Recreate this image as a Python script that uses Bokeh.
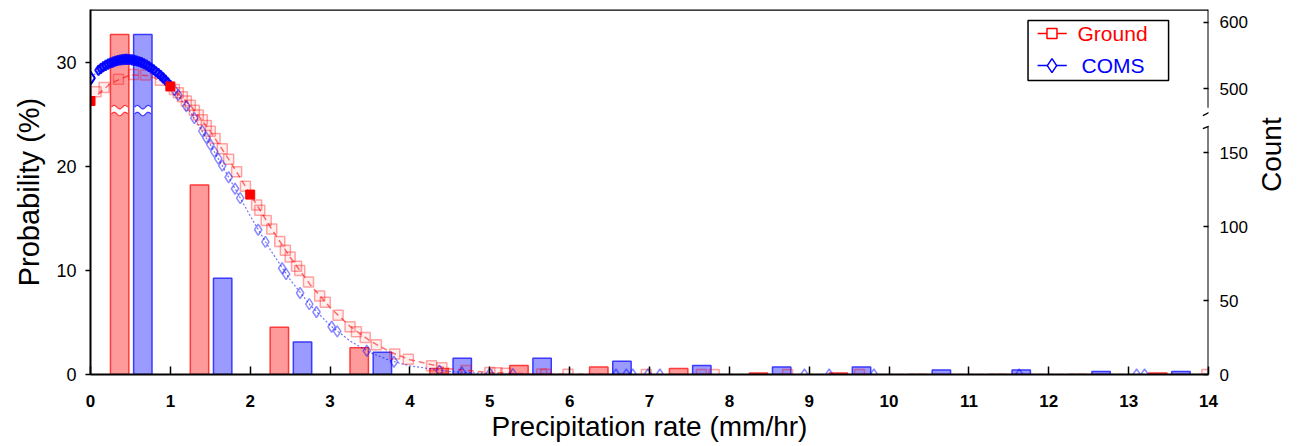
import numpy as np
from bokeh.plotting import figure
from bokeh.models import (Range1d, LinearAxis, FixedTicker, CustomJSTickFormatter,
                          Label, Arrow)
from bokeh.embed import file_html
from bokeh.resources import INLINE

# ---------------- data ----------------
bins = list(range(14))
ground_counts = [582, 128, 32, 18, 4, 6, 5, 4, 1, 1, 0, 0, 0, 1]
coms_counts = [582, 65, 22, 15, 11, 11, 9, 6, 5, 5, 3, 3, 2, 2]

x_ticks = list(range(15))
prob_ticks = [0, 10, 20, 30]
count_ticks = [0, 50, 100, 150, 500, 600]

ground_line_x = [0, 0.25, 0.5, 0.75, 1.0, 1.25, 1.5, 1.75, 2.0, 2.25, 2.5, 2.75, 3.0,
                 3.25, 3.5, 3.75, 4.0, 4.5, 5.0, 5.5, 6.0, 7.0, 14.0]
ground_line_y = [26.31, 27.99, 28.82, 28.73, 27.72, 25.89, 23.40, 20.47, 17.34, 14.21,
                 11.28, 8.66, 6.44, 4.63, 3.23, 2.18, 1.42, 0.55, 0.19, 0.05, 0.02, 0.0, 0.0]
coms_line_x = [0, 0.25, 0.5, 0.75, 1.0, 1.25, 1.5, 1.75, 2.0, 2.25, 2.5, 2.75, 3.0,
               3.25, 3.5, 3.75, 4.0, 4.5, 5.0, 5.5, 6.0, 7.0, 14.0]
coms_line_y = [28.60, 29.95, 30.28, 29.53, 27.79, 25.24, 22.11, 18.70, 15.25, 12.01,
               9.12, 6.68, 4.73, 3.23, 2.12, 1.35, 0.83, 0.28, 0.08, 0.02, 0.0, 0.0, 0.0]

ground_pts_x = [0.07, 0.17, 0.35, 0.54, 0.69, 0.875, 1.05, 1.1, 1.15, 1.2, 1.25, 1.3, 1.35,
                1.4, 1.45, 1.5, 1.56, 1.65, 1.73, 1.83, 1.94, 2.08, 2.12, 2.2, 2.27, 2.37,
                2.44, 2.5, 2.58, 2.62, 2.73, 2.87, 2.94, 3.1, 3.25, 3.33, 3.44, 3.58, 3.81,
                3.98, 4.27, 4.4, 4.7, 5.0, 5.09, 5.2, 5.65, 5.7, 5.98, 6.96, 7.65, 7.81,
                8.73, 9.63, 13.98]
ground_pts_y = [27.2, 27.6, 28.4, 28.85, 28.8, 28.3, 27.4, 27.1, 26.7, 26.3, 25.9, 25.4, 24.95,
                24.5, 23.95, 23.4, 22.7, 21.7, 20.7, 19.5, 18.1, 16.3, 15.8, 14.8, 14.0, 12.8,
                11.95, 11.3, 10.4, 10.0, 8.9, 7.55, 6.95, 5.7, 4.6, 4.1, 3.55, 2.85, 1.97,
                1.47, 0.85, 0.65, 0.38, 0.19, 0.16, 0.13, 0.04, 0.03, 0.02, 0.0, 0.0, 0.0,
                0.0, 0.0, 0.0]
ground_solid_x = [0.0, 1.0, 2.0]
ground_solid_y = [26.3, 27.7, 17.3]

# dense COMS points near the peak (they merge into a solid band)
coms_peak_x = [0.1, 0.13, 0.16, 0.19, 0.22, 0.25, 0.28, 0.31, 0.34, 0.37, 0.4, 0.43, 0.46,
               0.49, 0.52, 0.55, 0.58, 0.61, 0.64, 0.67, 0.7, 0.73, 0.76, 0.79, 0.82, 0.85,
               0.88, 0.91, 0.94, 0.97, 1.0]
coms_peak_y = [29.26, 29.43, 29.6, 29.73, 29.85, 29.95, 30.04, 30.13, 30.19, 30.24, 30.28,
               30.3, 30.3, 30.29, 30.26, 30.21, 30.15, 30.08, 29.99, 29.88, 29.76, 29.62,
               29.47, 29.3, 29.12, 28.95, 28.74, 28.53, 28.3, 28.05, 27.79]
coms_pts_x = [1.05, 1.1, 1.2, 1.3, 1.4, 1.45, 1.5, 1.55, 1.6,
              1.65, 1.73, 1.81, 1.875, 2.1, 2.19, 2.4, 2.45, 2.625, 2.74, 2.83, 3.02, 3.09,
              3.46, 3.8, 4.37, 4.65, 5.0, 5.29, 6.58, 6.71, 6.79, 6.98, 7.13, 8.94, 9.25,
              9.81, 11.63, 13.1, 13.2]
coms_pts_y = [27.34, 26.86, 25.8, 24.65, 23.41, 22.77, 22.11, 21.44, 20.76, 20.08, 18.97,
              17.86, 16.96, 13.92, 12.76, 10.22, 9.66, 7.84, 6.77, 6.01, 4.59, 4.14, 2.28,
              1.23, 0.38, 0.2, 0.08, 0.04, 0.0, 0.0, 0.0, 0.0, 0.0, 0.0, 0.0, 0.0, 0.0, 0.0,
              0.0]
coms_open_x = [0.0]
coms_open_y = [28.5]

# ---------------- broken count axis mapping ----------------
LOW_SCALE = 0.1423      # probability-axis units per count below the break
UP_REF_COUNT = 500
UP_REF = 27.5
UP_SCALE = 0.0635


def count_to_y(c):
    if c <= 300:
        return c * LOW_SCALE
    return UP_REF + (c - UP_REF_COUNT) * UP_SCALE


Y_TOP = 35.1
FONT = "Liberation Sans"

p = figure(width=1305, height=446, output_backend="svg", toolbar_location=None,
           x_range=Range1d(0, 14), y_range=Range1d(0, Y_TOP),
           min_border_left=90, min_border_right=95, min_border_top=9, min_border_bottom=72)
p.outline_line_color = None
p.xgrid.grid_line_color = None
p.ygrid.grid_line_color = None
p.background_fill_color = "white"

# left axis
ya = p.yaxis[0]
ya.ticker = FixedTicker(ticks=prob_ticks)
ya.minor_tick_line_color = None
ya.major_tick_in = 0
ya.major_tick_out = 5
ya.major_tick_line_width = 1.5
ya.axis_line_width = 2
ya.major_label_text_font = FONT
ya.major_label_text_font_size = "18px"
ya.major_label_text_color = "black"
ya.major_label_standoff = 9
ya.axis_label = "Probability (%)"
ya.axis_label_text_font = FONT
ya.axis_label_text_font_style = "normal"
ya.axis_label_text_font_size = "29px"
ya.axis_label_text_color = "black"
ya.axis_label_standoff = 8

# bottom axis
xa = p.xaxis[0]
xa.ticker = FixedTicker(ticks=x_ticks)
xa.minor_tick_line_color = None
xa.major_tick_in = 8
xa.major_tick_out = 0
xa.major_tick_line_width = 1.5
xa.axis_line_width = 2
xa.major_label_text_font = FONT
xa.major_label_text_font_size = "17px"
xa.major_label_text_font_style = "bold"
xa.major_label_text_color = "black"
xa.major_label_standoff = 20
xa.axis_label = "Precipitation rate (mm/hr)"
xa.axis_label_text_font = FONT
xa.axis_label_text_font_style = "normal"
xa.axis_label_text_font_size = "28px"
xa.axis_label_text_color = "black"
xa.axis_label_standoff = 1

# right (count) axis with break
tick_pos = [count_to_y(c) for c in count_ticks]
tick_labs = [str(c) for c in count_ticks]
p.extra_y_ranges = {"cnt": Range1d(0, Y_TOP)}
ra = LinearAxis(y_range_name="cnt", ticker=FixedTicker(ticks=tick_pos),
                formatter=CustomJSTickFormatter(args=dict(pos=tick_pos, labs=tick_labs), code="""
let best = 0; let d = 1e9;
for (let i = 0; i < pos.length; i++) { const e = Math.abs(pos[i] - tick); if (e < d) { d = e; best = i; } }
return labs[best];
"""))
ra.axis_line_color = None
ra.minor_tick_line_color = None
ra.major_tick_in = 5
ra.major_tick_out = 0
ra.major_tick_line_width = 1.5
ra.major_label_text_font = FONT
ra.major_label_text_font_size = "17px"
ra.major_label_text_color = "black"
ra.major_label_standoff = 11
ra.axis_label = "Count"
ra.axis_label_orientation = np.pi / 2
ra.axis_label_text_font = FONT
ra.axis_label_text_font_style = "normal"
ra.axis_label_text_font_size = "28px"
ra.axis_label_text_color = "black"
ra.axis_label_standoff = 21
p.add_layout(ra, "right")

lower_top = count_to_y(168)
upper_bot = count_to_y(471)
for (y0, y1) in [(0, lower_top), (upper_bot, Y_TOP)]:
    p.add_layout(Arrow(end=None, x_start=14, y_start=y0, x_end=14, y_end=y1,
                       line_color="black", line_width=2))
# break slashes
for (y0, y1) in [(24.90, 25.67), (23.65, 24.23)]:
    p.add_layout(Arrow(end=None, x_start=13.93, y_start=y0, x_end=14.125, y_end=y1,
                       line_color="black", line_width=1.3))
# top border
p.add_layout(Arrow(end=None, x_start=0, y_start=Y_TOP, x_end=14, y_end=Y_TOP,
                   line_color="black", line_width=2.5))

# ---------------- bars ----------------
BAR_W = 0.23
red_x = [b + 0.365 for b in bins]
blue_x = [b + 0.655 for b in bins]
red_top = [count_to_y(c) for c in ground_counts]
blue_top = [count_to_y(c) for c in coms_counts]
p.vbar(x=red_x, top=red_top, bottom=0, width=BAR_W, fill_color="#ff9a9a",
       line_color="#ff3a3a", line_width=1.5)
p.vbar(x=blue_x, top=blue_top, bottom=0, width=BAR_W, fill_color="#9a9aff",
       line_color="#3a3aff", line_width=1.5)

# wavy break marks on the tall bars
BREAK_C = 25.38
BREAK_H = 0.33
AMP = 0.17
for cx, cnt, lc in [(red_x[0], ground_counts[0], "#ff3a3a"), (blue_x[0], coms_counts[0], "#3a3aff")]:
    if cnt > 300:
        xs = np.linspace(cx - BAR_W / 2 + 0.012, cx + BAR_W / 2 - 0.012, 30)
        ph = np.linspace(0, 3 * np.pi, 30)
        top = BREAK_C + BREAK_H + AMP * np.sin(ph)
        bot = BREAK_C - BREAK_H + AMP * np.sin(ph)
        p.patch(np.concatenate([xs, xs[::-1]]), np.concatenate([top, bot[::-1]]),
                fill_color="white", line_color=None)
        p.line(xs, top, line_color=lc, line_width=1.2)
        p.line(xs, bot, line_color=lc, line_width=1.2)

# ---------------- curves ----------------
p.line(ground_line_x, ground_line_y, line_color="red", line_alpha=0.55, line_width=1.5,
       line_dash="6 4")
p.line(coms_line_x, coms_line_y, line_color="blue", line_alpha=0.55, line_width=1.2,
       line_dash="2 2")
p.scatter(ground_pts_x, ground_pts_y, marker="square", size=10, line_color="red",
          line_alpha=0.35, fill_color="red", fill_alpha=0.06, line_width=1.5)
p.scatter(coms_pts_x, coms_pts_y, marker="diamond", size=11, line_color="blue",
          line_alpha=0.45, fill_color=None, line_width=1.5)
p.scatter(coms_peak_x, coms_peak_y, marker="diamond", size=10, line_color="blue",
          line_alpha=0.9, fill_color="blue", fill_alpha=0.3, line_width=2)
p.scatter(ground_solid_x, ground_solid_y, marker="square", size=9, line_color="red",
          fill_color="red")
p.scatter(coms_open_x, coms_open_y, marker="diamond", size=13, line_color="blue",
          fill_color="white", line_width=2)

# ---------------- legend (manual) ----------------
p.quad(left=[11.74], right=[13.5], bottom=[28.27], top=[34.04], fill_color="white",
       line_color="black", line_width=1.5)
p.line([11.86, 12.225], [32.79, 32.79], line_color="red", line_width=1.5)
p.scatter([12.04], [32.79], marker="square", size=10, line_color="red", fill_color="white",
          line_width=1.5)
p.line([11.86, 12.225], [29.71, 29.71], line_color="blue", line_width=1.5)
p.scatter([12.04], [29.71], marker="diamond", size=14, line_color="blue", fill_color="white",
          line_width=1.5)
p.add_layout(Label(x=12.36, y=32.79, text="Ground", text_baseline="middle", text_font=FONT,
                   text_font_size="21px", text_color="red"))
p.add_layout(Label(x=12.41, y=29.71, text="COMS", text_baseline="middle", text_font=FONT,
                   text_font_size="21px", text_color="blue"))

open("out.html", "w").write(file_html(p, INLINE))
